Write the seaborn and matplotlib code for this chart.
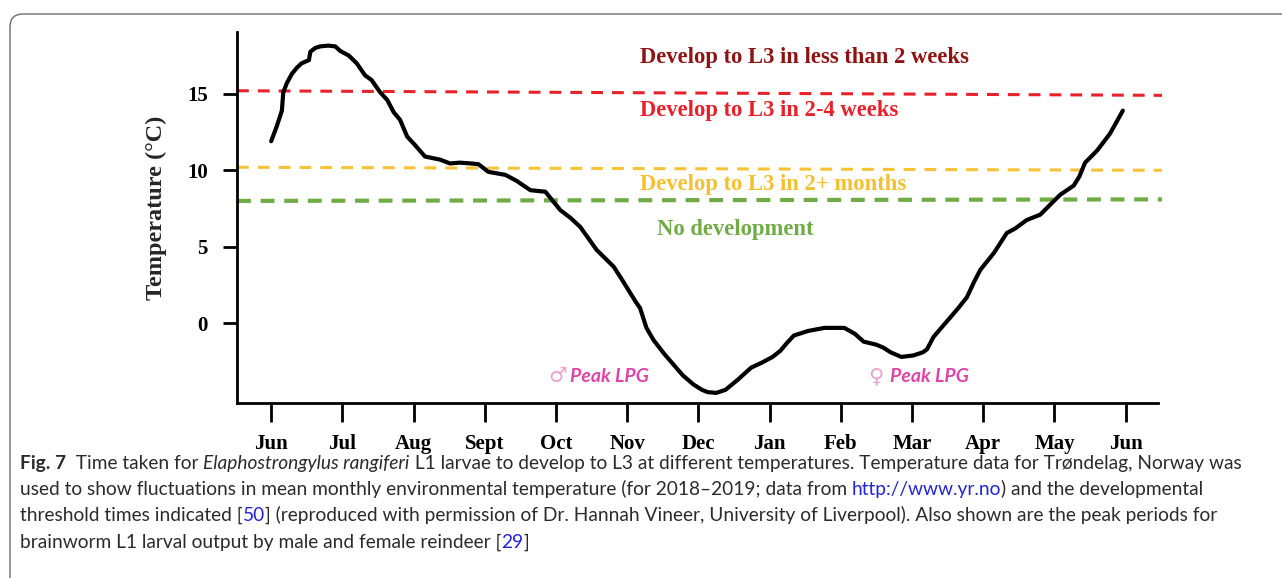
"""Mean monthly temperature in Trøndelag with L1 -> L3 development thresholds."""

import matplotlib.pyplot as plt
from matplotlib.patches import FancyBboxPatch
from matplotlib.transforms import IdentityTransform
import pandas as pd
import seaborn as sns


MONTH_LABELS = ["Jun", "Jul", "Aug", "Sept", "Oct", "Nov", "Dec",
                "Jan", "Feb", "Mar", "Apr", "May", "Jun"]

# curve: position in months after the first "Jun" tick
MONTH_POS = [0.00, 0.08, 0.15, 0.17, 0.22, 0.29, 0.36, 0.43, 0.53, 0.55,
             0.62, 0.69, 0.80, 0.90, 0.97, 1.09, 1.20, 1.32, 1.41, 1.53,
             1.63, 1.72, 1.81, 1.91, 2.02, 2.16, 2.37, 2.51, 2.65, 2.80,
             2.91, 3.05, 3.29, 3.45, 3.64, 3.85, 4.06, 4.20, 4.34, 4.57,
             4.81, 4.92, 5.04, 5.12, 5.18, 5.27, 5.37, 5.52, 5.65, 5.78,
             5.93, 6.05, 6.13, 6.25, 6.38, 6.55, 6.74, 6.90, 7.04, 7.15,
             7.24, 7.34, 7.54, 7.77, 8.05, 8.20, 8.32, 8.50, 8.60, 8.70,
             8.85, 9.02, 9.15, 9.21, 9.30, 9.41, 9.54, 9.65, 9.77, 9.87,
             9.96, 10.15, 10.33, 10.45, 10.61, 10.80, 10.95, 11.08, 11.27, 11.35,
             11.43, 11.60, 11.78, 11.96]
TEMPS = [11.9, 12.9, 13.9, 15.1, 15.7, 16.3, 16.7, 17.0, 17.2, 17.75,
         18.0, 18.1, 18.15, 18.1, 17.8, 17.5, 17.0, 16.2, 15.9, 15.1,
         14.6, 13.8, 13.3, 12.2, 11.65, 10.9, 10.7, 10.45, 10.5, 10.45,
         10.4, 9.9, 9.7, 9.3, 8.7, 8.6, 7.4, 6.9, 6.3, 4.8,
         3.7, 2.9, 2.0, 1.4, 1.0, -0.3, -1.1, -2.0, -2.7, -3.4,
         -4.0, -4.35, -4.5, -4.55, -4.35, -3.7, -2.9, -2.55, -2.2, -1.8,
         -1.3, -0.8, -0.5, -0.3, -0.3, -0.7, -1.2, -1.4, -1.6, -1.9,
         -2.2, -2.1, -1.9, -1.7, -0.9, -0.3, 0.4, 1.0, 1.7, 2.7,
         3.5, 4.6, 5.9, 6.2, 6.75, 7.1, 7.8, 8.4, 9.0, 9.6,
         10.5, 11.3, 12.4, 13.9]

# threshold lines (value at left end, value at right end)
THRESH_NAMES = ["red", "yellow", "green"]
THRESH_VALUES = [(15.2, 14.9), (10.2, 10.0), (8.0, 8.1)]
THRESH_COLORS = ["#E8202A", "#F7C234", "#6FAC46"]

ZONE_LABELS = ["Develop to L3 in less than 2 weeks", "Develop to L3 in 2-4 weeks",
               "Develop to L3 in 2+ months", "No development"]
ZONE_COLORS = ["#8E1414", "#E8202A", "#F4C030", "#6FAC46"]
ZONE_X = [5.18, 5.18, 5.18, 5.42]
ZONE_Y = [17.4, 13.9, 9.1, 6.15]

PEAK_SYMBOLS = ["\u2642", "\u2640"]
PEAK_X = [3.89, 8.38]
PEAK_Y = [-3.45, -3.5]

X_LIM = (-0.48, 12.51)
Y_LIM = (-5.21, 19.04)


def draw_caption(fig, ax):
    """Caption under the chart, built from runs of differently styled text."""
    base = dict(fontsize=13.8, color="#2b2b2b", family="Lato")
    blue = "#2323D8"
    lines = [
        [("Fig. 7", {"weight": "bold"}), ("  Time taken for ", {}),
         ("Elaphostrongylus rangiferi", {"style": "italic"}),
         (" L1 larvae to develop to L3 at different temperatures. Temperature data for "
          "Trøndelag, Norway was", {})],
        [("used to show fluctuations in mean monthly environmental temperature "
          "(for 2018–2019; data from ", {}), ("http://www.yr.no", {"color": blue}),
         (") and the developmental", {})],
        [("threshold times indicated [", {}), ("50", {"color": blue}),
         ("] (reproduced with permission of Dr. Hannah Vineer, University of Liverpool). "
          "Also shown are the peak periods for", {})],
        [("brainworm L1 larval output by male and female reindeer [", {}),
         ("29", {"color": blue}), ("]", {})],
    ]
    line_y = [469, 495, 521, 548]
    for pieces, y in zip(lines, line_y):
        last = None
        for text, style in pieces:
            kw = {**base, **style}
            if last is None:
                last = fig.text(20 / 1282, 1 - y / 578, text, va="baseline", **kw)
            else:
                last = ax.annotate(text, xy=(1, 0), xycoords=last,
                                   va="bottom", ha="left",
                                   annotation_clip=False, **kw)


def main():
    sns.set_theme(style="white")
    plt.rcParams["font.family"] = ["Liberation Serif", "DejaVu Serif"]
    plt.rcParams["lines.scale_dashes"] = False

    fig = plt.figure(figsize=(12.82, 5.78), dpi=100)
    ax = fig.add_axes([237 / 1282, 175 / 578, 925 / 1282, 371 / 578])

    frame = FancyBboxPatch((10, -20), 1300, 578 - 14 + 20,
                           boxstyle="round,pad=0,rounding_size=13",
                           transform=IdentityTransform(), facecolor="none",
                           edgecolor="#6a6a6a", linewidth=1.0)
    fig.patches.append(frame)

    for name, (y0, y1), color in zip(THRESH_NAMES, THRESH_VALUES, THRESH_COLORS):
        lw = 3.0 if name == "green" else 2.2
        dashes = (10, 7) if name == "green" else (8.5, 6.5)
        ax.plot(X_LIM, (y0, y1), color=color, lw=lw, dashes=dashes,
                solid_capstyle="butt", zorder=2)

    curve = pd.DataFrame({"month": MONTH_POS, "temp": TEMPS})
    sns.lineplot(data=curve, x="month", y="temp", sort=False, estimator=None,
                 color="black", linewidth=3.0, ax=ax, zorder=3)

    for label, color, x, y in zip(ZONE_LABELS, ZONE_COLORS, ZONE_X, ZONE_Y):
        ax.text(x, y, label, color=color, fontsize=16.3, fontweight="bold",
                ha="left", va="center")

    for sym, x, y in zip(PEAK_SYMBOLS, PEAK_X, PEAK_Y):
        ax.text(x, y, sym, color="#E9A3C9", fontsize=15, family="DejaVu Sans",
                ha="left", va="center")
        ax.text(x + 0.31, y, "Peak LPG", color="#DE45A6", fontsize=14,
                family="Lato", fontweight="bold", style="italic",
                ha="left", va="center")

    ax.set_xlim(*X_LIM)
    ax.set_ylim(*Y_LIM)
    ax.set_xticks(range(len(MONTH_LABELS)))
    ax.set_xticklabels(MONTH_LABELS)
    ax.set_yticks([0, 5, 10, 15])
    ax.set_xlabel("")
    ax.set_ylabel("Temperature (°C)", fontsize=17.5, fontweight="bold")
    ax.yaxis.set_label_coords(-0.076, 0.526)

    for side in ("top", "right"):
        ax.spines[side].set_visible(False)
    for side in ("left", "bottom"):
        ax.spines[side].set_color("black")
        ax.spines[side].set_linewidth(2.0)
    ax.spines["bottom"].set_bounds(X_LIM[0], 12.45)

    ax.tick_params(axis="x", bottom=True, direction="out", length=14, width=2.0,
                   pad=8, labelsize=15, colors="black")
    ax.tick_params(axis="y", left=True, direction="out", length=10, width=2.0,
                   pad=11, labelsize=15, colors="black")
    for lab in ax.get_xticklabels() + ax.get_yticklabels():
        lab.set_fontweight("bold")

    draw_caption(fig, ax)

    fig.savefig("out.png", dpi=100)
    plt.close(fig)


if __name__ == "__main__":
    main()
